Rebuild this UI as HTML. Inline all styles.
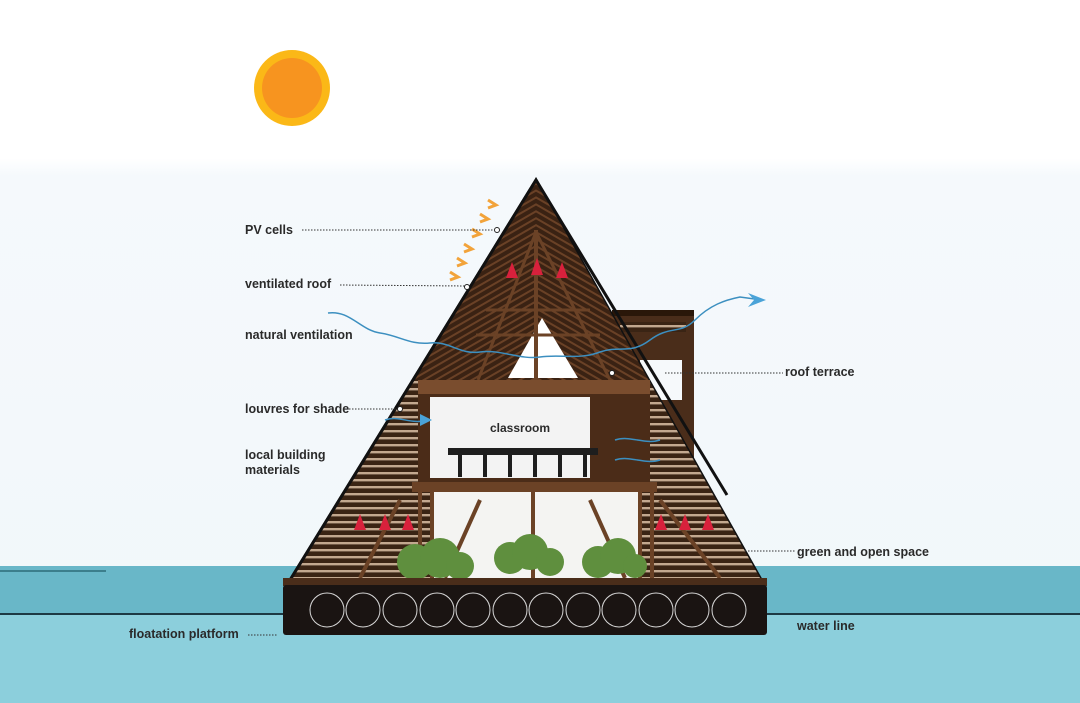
<!DOCTYPE html>
<html><head><meta charset="utf-8"><style>
html,body{margin:0;padding:0;width:1080px;height:703px;overflow:hidden;background:#fff}
svg{display:block}
text{font-family:"Liberation Sans",Arial,sans-serif;font-weight:bold;font-size:12.5px;fill:#2a2a2a}
</style></head><body>
<svg width="1080" height="703" viewBox="0 0 1080 703" xmlns="http://www.w3.org/2000/svg">
<defs>
<linearGradient id="sky" x1="0" y1="0" x2="0" y2="1">
<stop offset="0" stop-color="#ffffff"/><stop offset="0.225" stop-color="#ffffff"/><stop offset="0.25" stop-color="#f5f9fc"/><stop offset="1" stop-color="#f1f7fa"/>
</linearGradient>
<pattern id="louv" width="8" height="7" patternUnits="userSpaceOnUse">
<rect width="8" height="7" fill="#3a2414"/><rect y="3" width="8" height="2.4" fill="#c2a88f"/>
</pattern>
<pattern id="roof" width="6" height="6" patternUnits="userSpaceOnUse" patternTransform="rotate(60)">
<rect width="6" height="6" fill="#3a2213"/><rect width="2" height="6" fill="#6a4126"/>
</pattern>
<pattern id="roof2" width="6" height="6" patternUnits="userSpaceOnUse" patternTransform="rotate(-60)">
<rect width="6" height="6" fill="#3a2213"/><rect width="2" height="6" fill="#6a4126"/>
</pattern>
<clipPath id="tri"><polygon points="536,180 287,585 764,585"/></clipPath>
</defs>
<rect width="1080" height="703" fill="url(#sky)"/>
<rect x="0" y="566" width="1080" height="48" fill="#69b7c8"/>
<rect x="0" y="614" width="1080" height="89" fill="#8ccfdc"/>
<line x1="0" y1="614" x2="1080" y2="614" stroke="#1d3a44" stroke-width="2"/>
<line x1="0" y1="571" x2="106" y2="571" stroke="#2d6b78" stroke-width="1.5"/>
<circle cx="292" cy="88" r="38" fill="#fbb817"/>
<circle cx="292" cy="88" r="30" fill="#f7941f"/>
<rect x="612" y="310" width="82" height="210" fill="#4a2d1a"/>
<rect x="620" y="322" width="66" height="10" fill="url(#louv)"/>
<rect x="640" y="360" width="42" height="40" fill="#f6f9fb"/>
<rect x="612" y="310" width="82" height="6" fill="#2a1709"/>
<polygon points="536,180 287,585 764,585" fill="#3a2313" stroke="#111" stroke-width="3" stroke-linejoin="miter"/>
<g clip-path="url(#tri)">
<rect x="280" y="180" width="260" height="210" fill="url(#roof)"/>
<rect x="536" y="180" width="240" height="210" fill="url(#roof2)"/>
<rect x="280" y="380" width="500" height="205" fill="url(#louv)"/>
</g>
<polyline points="287,585 536,180 727,495" fill="none" stroke="#111" stroke-width="3"/>
<polygon points="542,318 508,378 578,378" fill="#ffffff"/>
<line x1="536" y1="230" x2="536" y2="380" stroke="#6b4226" stroke-width="4"/>
<line x1="486" y1="310" x2="590" y2="310" stroke="#6b4226" stroke-width="3"/>
<line x1="476" y1="335" x2="600" y2="335" stroke="#6b4226" stroke-width="3"/>
<line x1="536" y1="232" x2="478" y2="380" stroke="#6b4226" stroke-width="3"/>
<line x1="536" y1="232" x2="610" y2="380" stroke="#6b4226" stroke-width="3"/>
<rect x="418" y="380" width="232" height="110" fill="#4b2c18"/>
<rect x="418" y="380" width="232" height="14" fill="#7a4d2e"/>
<rect x="430" y="397" width="160" height="81" fill="#f3f3f3"/>
<text x="490" y="432" style="font-size:12px">classroom</text>
<g fill="#1e1e1e">
<rect x="448" y="448" width="150" height="7"/>
<rect x="458" y="455" width="4" height="22"/><rect x="483" y="455" width="4" height="22"/><rect x="508" y="455" width="4" height="22"/><rect x="533" y="455" width="4" height="22"/><rect x="558" y="455" width="4" height="22"/><rect x="583" y="455" width="4" height="22"/>
</g>
<rect x="412" y="482" width="245" height="10" fill="#6b4226"/>
<polygon points="430,492 640,492 640,578 430,578" fill="#f4f4f2"/>
<g stroke="#6b4226" stroke-width="4">
<line x1="533" y1="492" x2="533" y2="580"/>
<line x1="432" y1="492" x2="432" y2="580"/><line x1="640" y1="492" x2="640" y2="580"/>
<line x1="420" y1="492" x2="420" y2="580"/><line x1="652" y1="492" x2="652" y2="580"/>
<line x1="480" y1="500" x2="445" y2="578"/><line x1="590" y1="500" x2="625" y2="578"/>
<line x1="660" y1="500" x2="720" y2="578"/><line x1="400" y1="500" x2="360" y2="578"/>
</g>
<g fill="#5f8f3e">
<circle cx="415" cy="562" r="18"/><circle cx="440" cy="558" r="20"/><circle cx="460" cy="566" r="14"/>
<circle cx="510" cy="558" r="16"/><circle cx="530" cy="552" r="18"/><circle cx="550" cy="562" r="14"/>
<circle cx="598" cy="562" r="16"/><circle cx="618" cy="556" r="18"/><circle cx="635" cy="566" r="12"/>
</g>
<rect x="283" y="578" width="484" height="8" fill="#4a2d1a"/>
<rect x="283" y="585" width="484" height="50" rx="3" fill="#1a1412"/>
<g fill="none" stroke="#d8d8d8" stroke-width="1">
<circle cx="327" cy="610" r="17"/><circle cx="363" cy="610" r="17"/><circle cx="400" cy="610" r="17"/><circle cx="437" cy="610" r="17"/><circle cx="473" cy="610" r="17"/><circle cx="510" cy="610" r="17"/><circle cx="546" cy="610" r="17"/><circle cx="583" cy="610" r="17"/><circle cx="619" cy="610" r="17"/><circle cx="656" cy="610" r="17"/><circle cx="692" cy="610" r="17"/><circle cx="729" cy="610" r="17"/>
</g>
<g fill="#d8213c">
<polygon points="512,262 506,278 518,278"/><polygon points="537,258 531,275 543,275"/><polygon points="562,262 556,278 568,278"/>
<polygon points="360,514 354,530 366,530"/><polygon points="385,514 379,530 391,530"/><polygon points="408,514 402,530 414,530"/>
<polygon points="661,514 655,530 667,530"/><polygon points="685,514 679,530 691,530"/><polygon points="708,514 702,530 714,530"/>
</g>
<g fill="none" stroke="#f2a33a" stroke-width="3">
<polyline points="488,200 496,205 488,208"/><polyline points="480,214 488,219 480,222"/><polyline points="472,229 480,234 472,237"/>
<polyline points="464,244 472,249 464,252"/><polyline points="457,258 465,263 457,266"/><polyline points="450,272 458,277 450,280"/>
</g>
<g fill="none" stroke="#3c8fc0" stroke-width="1.5">
<path d="M328,313 C350,310 360,330 380,333 C400,336 410,345 430,343 C450,341 460,355 480,352 C500,349 520,360 540,357 C560,354 580,360 600,352 C620,345 630,355 650,340 C670,325 680,335 695,320 C710,305 725,300 740,297 L762,300"/>
<path d="M385,420 C400,415 410,425 428,420"/>
<path d="M615,440 C630,435 645,445 660,440"/><path d="M615,460 C630,455 645,465 660,460"/>
</g>
<polygon points="748,293 766,300 748,307 754,300" fill="#4aa3d8"/>
<polygon points="420,414 432,420 420,426" fill="#4aa3d8"/>
<g stroke="#333" stroke-width="1" stroke-dasharray="1.5,1.5" fill="none">
<line x1="302" y1="230" x2="494" y2="230"/><line x1="340" y1="285" x2="465" y2="286"/>
<line x1="343" y1="409" x2="398" y2="409"/><line x1="248" y1="635" x2="278" y2="635"/>
<line x1="665" y1="373" x2="783" y2="373"/><line x1="745" y1="551" x2="795" y2="551"/>
</g>
<circle cx="497" cy="230" r="2.5" fill="#fff" stroke="#222"/>
<circle cx="467" cy="287" r="2.5" fill="#fff" stroke="#222"/>
<circle cx="400" cy="409" r="2.5" fill="#fff" stroke="#222"/>
<circle cx="612" cy="373" r="2.5" fill="#fff" stroke="#222"/>
<text x="245" y="234">PV cells</text>
<text x="245" y="288">ventilated roof</text>
<text x="245" y="339">natural ventilation</text>
<text x="245" y="413">louvres for shade</text>
<text x="245" y="459">local building</text>
<text x="245" y="474">materials</text>
<text x="129" y="638">floatation platform</text>
<text x="785" y="376">roof terrace</text>
<text x="797" y="556">green and open space</text>
<text x="797" y="630">water line</text>
</svg>
</body></html>
